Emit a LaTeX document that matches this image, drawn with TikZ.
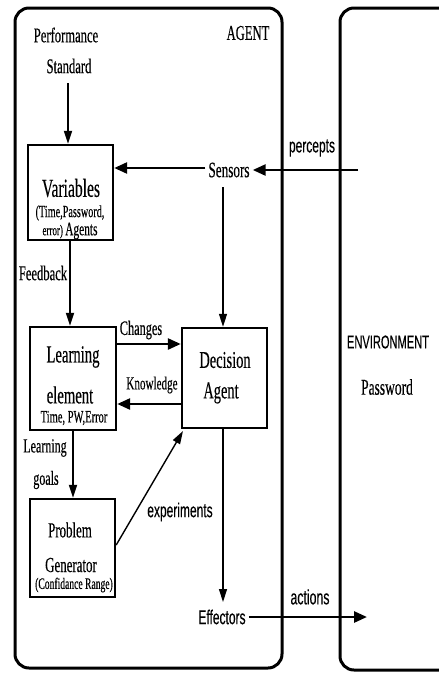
\documentclass[tikz,border=0pt]{standalone}
\usepackage{fontspec}
\setmainfont{Liberation Serif}[FakeStretch=0.6,FakeBold=0.3]
\newfontfamily\sansc{Liberation Sans}[FakeStretch=0.6,FakeBold=0.2]
\usetikzlibrary{arrows.meta}
\newcommand\fsz[1]{\fontsize{#1}{#1}\selectfont}
\begin{document}
\begin{tikzpicture}[x=1pt,y=-1pt,
  lbl/.style={inner sep=0pt, anchor=center},
  frame/.style={draw, line width=3pt, rounded corners=14pt},
  boxx/.style={draw, line width=2.4pt, inner sep=0pt},
  thk/.style={line width=2.6pt, -{Triangle[length=13pt,width=11pt]}},
  thn/.style={line width=1.7pt, -{Triangle[length=13pt,width=8pt]}},
]
\clip (0,0) rectangle (439,675);
\fill[white] (0,0) rectangle (439,675);
% frames
\draw[frame] (15,8) rectangle (282,668);
\draw[frame] (340,8) rectangle (480,670);
% boxes
\node[boxx, minimum width=85pt, minimum height=95pt] (vars) at (70.5,192.5) {};
\node[boxx, minimum width=86pt, minimum height=103pt] (learn) at (73,378.5) {};
\node[boxx, minimum width=85pt, minimum height=100pt] (dec) at (224.5,378) {};
\node[boxx, minimum width=85pt, minimum height=98pt] (prob) at (72.5,548) {};
% texts
\node[lbl, font=\fsz{21}] (perfA) at (66,35) {Performance};
\node[lbl, font=\fsz{21}] (perfB) at (69,66) {Standard};
\node[lbl, font=\fsz{21}] (agent) at (248,33) {AGENT};
\node[lbl, font=\fsz{26}] (varsA) at (71,188) {Variables};
\node[lbl, font=\fsz{17}] (varsB) at (70,213) {(Time,Password,};
\node[lbl] (varsC) at (70,231) {\fsz{15}error) \fsz{19}Agents};
\node[lbl, font=\fsz{22}, inner sep=3pt] (sens) at (229,170) {Sensors};
\node[lbl, font=\sansc\fsz{20}] (perc) at (312,148) {percepts};
\node[lbl, font=\fsz{21}] (feed) at (43,273) {Feedback};
\node[lbl, font=\fsz{24.5}] (learnA) at (73,357) {Learning};
\node[lbl, font=\fsz{24.5}] (learnB) at (70,395) {element};
\node[lbl, font=\fsz{17.5}] (learnC) at (74,418) {Time, PW,Error};
\node[lbl, font=\fsz{20.5}] (chg) at (141,330) {Changes};
\node[lbl, font=\fsz{18.5}] (knw) at (152,385) {Knowledge};
\node[lbl, font=\fsz{24}] (decA) at (225,360) {Decision};
\node[lbl, font=\fsz{24}] (decB) at (221,393) {Agent};
\node[lbl, font=\fsz{20}] (lgA) at (45,448) {Learning};
\node[lbl, font=\fsz{20}] (lgB) at (46,480) {goals};
\node[lbl, font=\fsz{21.5}] (probA) at (70,530) {Problem};
\node[lbl, font=\fsz{21.5}] (probB) at (71,565) {Generator};
\node[lbl, font=\fsz{16}] (probC) at (74,585) {(Confidance Range)};
\node[lbl, font=\sansc\fsz{20}] (expt) at (180,512) {experiments};
\node[lbl, font=\sansc\fsz{20}, inner sep=3pt] (eff) at (222,617) {Effectors};
\node[lbl, font=\sansc\fsz{20.5}] (act) at (310,597) {actions};
\node[lbl, font=\sansc\fsz{18.5}] (env) at (388,342) {ENVIRONMENT};
\node[lbl, font=\fsz{22.5}] (pw) at (387,387) {Password};
% coordinates
\coordinate (percS) at (358,170);
\coordinate (actE) at (367,617);
% connectors
\draw[thn] (68,83) -- (vars.north -| 68,0);
\draw[thk] (sens.west |- 0,168) -- (vars.east |- 0,168);
\draw[thk] (percS) -- (sens.east);
\draw[thn, line width=1.4pt] (223,187) -- (dec.north -| 223,0);
\draw[thn] (vars.south -| 70,0) -- (learn.north -| 70,0);
\draw[thk] (learn.east |- 0,344) -- (dec.west |- 0,344);
\draw[thk] (dec.west |- 0,404) -- (learn.east |- 0,404);
\draw[thn] (learn.south -| 73,0) -- (prob.north -| 73,0);
\draw[thn, line width=1.4pt] (prob.east |- 0,545) -- (183,431);
\draw[thn, line width=1.4pt] (dec.south -| 223,0) -- (223,602);
\draw[thk] (eff.east) -- (actE);
\end{tikzpicture}
\end{document}
